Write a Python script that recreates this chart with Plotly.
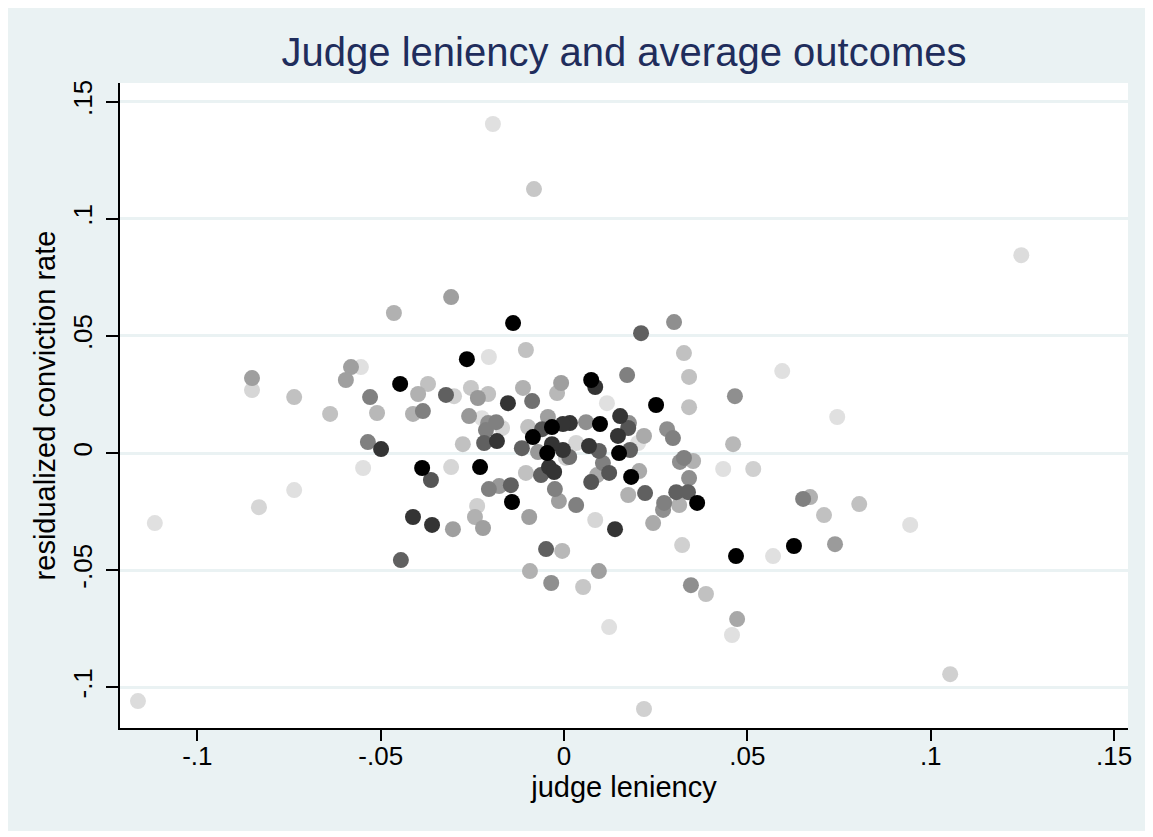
import plotly.graph_objects as go

# judge leniency (x) and residualized conviction rate (y); darkness = judge caseload weight (0 light .. 1 black)
leniency = [
    -0.0194, -0.0082, 0.1247, -0.1162, -0.1116, 0.0218, 0.1053, 0.0944, 0.0805, 0.0739,
    0.0709, 0.0671, 0.0652, 0.0627, 0.0745, 0.0595, 0.0570, 0.0469, 0.0461, 0.0434,
    0.0516, 0.0387, 0.0472, 0.0458, 0.0300, 0.0210, 0.0327, 0.0341, 0.0172, 0.0466,
    0.0341, 0.0251, 0.0117, 0.0153, 0.0177, 0.0175, 0.0098, 0.0147, 0.0218, 0.0281,
    0.0297, 0.0202, 0.0180, 0.0150, 0.0327, 0.0316, 0.0352, 0.0106, 0.0123, 0.0205,
    0.0183, 0.0341, 0.0306, 0.0338, 0.0221, 0.0175, 0.0363, 0.0273, 0.0270, 0.0314,
    0.0243, 0.0139, 0.0085, -0.0046, -0.0003, 0.0068, 0.0095, 0.0014, 0.0005, -0.0041,
    -0.0027, -0.0104, -0.0063, 0.0090, 0.0074, -0.0025, -0.0014, 0.0033, -0.0095, 0.0322,
    -0.0049, -0.0005, -0.0093, 0.0095, -0.0035, 0.0052, 0.0346, 0.0123, -0.0104, 0.0074,
    0.0085, -0.0008, -0.0019, -0.0112, -0.0087, 0.0060, 0.0016, -0.0003, -0.0033, -0.0044,
    -0.0098, -0.0060, -0.0085, 0.0033, -0.0033, -0.0071, -0.0115, -0.0139, -0.0308, -0.0265,
    -0.0205, -0.0464, -0.0447, -0.0371, -0.0398, -0.0322, -0.0300, -0.0254, -0.0235, -0.0207,
    -0.0412, -0.0385, -0.0259, -0.0224, -0.0207, -0.0185, -0.0169, -0.0213, -0.0153, -0.0183,
    -0.0218, -0.0276, -0.0387, -0.0363, -0.0308, -0.0229, -0.0205, -0.0177, -0.0145, -0.0142,
    -0.0237, -0.0243, -0.0221, -0.0412, -0.0360, -0.0303, -0.0581, -0.0554, -0.0595, -0.0529,
    -0.0638, -0.0510, -0.0535, -0.0499, -0.0548, -0.0445, -0.0851, -0.0851, -0.0736, -0.0736,
    -0.0832,
]
conviction = [
    0.1405, 0.1127, 0.0845, -0.1059, -0.0299, -0.1093, -0.0944, -0.0307, -0.0218, -0.0389,
    -0.0265, -0.0188, -0.0196, -0.0397, 0.0154, 0.0350, -0.0440, -0.0440, 0.0038, -0.0068,
    -0.0068, -0.0602, -0.0709, -0.0777, 0.0559, 0.0512, 0.0427, 0.0325, 0.0333, 0.0243,
    0.0196, 0.0205, 0.0213, 0.0158, 0.0128, 0.0107, 0.0124, 0.0073, 0.0073, 0.0102,
    0.0064, 0.0043, 0.0013, 0.0000, -0.0021, -0.0038, -0.0034, -0.0043, -0.0085, -0.0077,
    -0.0102, -0.0107, -0.0167, -0.0167, -0.0171, -0.0179, -0.0213, -0.0213, -0.0243, -0.0222,
    -0.0299, -0.0325, -0.0286, 0.0000, 0.0013, 0.0030, 0.0009, -0.0017, -0.0021, -0.0060,
    -0.0081, -0.0085, -0.0094, -0.0094, -0.0124, -0.0154, -0.0205, -0.0222, -0.0273, -0.0393,
    -0.0410, -0.0418, -0.0504, -0.0504, -0.0555, -0.0572, -0.0564, -0.0743, 0.0440, 0.0312,
    0.0282, 0.0299, 0.0256, 0.0278, 0.0222, 0.0132, 0.0128, 0.0124, 0.0111, 0.0154,
    0.0111, 0.0102, 0.0068, 0.0043, 0.0038, 0.0004, 0.0021, 0.0555, 0.0666, 0.0401,
    0.0410, 0.0598, 0.0295, 0.0295, 0.0252, 0.0248, 0.0243, 0.0278, 0.0235, 0.0252,
    0.0167, 0.0179, 0.0158, 0.0149, 0.0128, 0.0132, 0.0107, 0.0098, 0.0213, 0.0051,
    0.0043, 0.0038, -0.0064, -0.0115, -0.0060, -0.0060, -0.0154, -0.0141, -0.0137, -0.0209,
    -0.0226, -0.0273, -0.0320, -0.0273, -0.0307, -0.0325, 0.0367, 0.0367, 0.0312, 0.0239,
    0.0167, 0.0171, 0.0047, 0.0017, -0.0064, -0.0457, 0.0320, 0.0269, 0.0239, -0.0158,
    -0.0231,
]
weight = [
    0.00, 0.11, 0.02, 0.02, 0.00, 0.07, 0.07, 0.00, 0.14, 0.31,
    0.14, 0.21, 0.43, 1.00, 0.00, 0.00, 0.00, 1.00, 0.18, 0.00,
    0.07, 0.14, 0.25, 0.00, 0.36, 0.57, 0.14, 0.14, 0.43, 0.36,
    0.14, 1.00, 0.00, 0.77, 0.36, 0.62, 1.00, 0.77, 0.24, 0.36,
    0.43, 0.00, 0.57, 1.00, 0.43, 0.36, 0.21, 0.43, 0.62, 0.24,
    1.00, 0.36, 0.57, 0.57, 0.57, 0.21, 1.00, 0.43, 0.36, 0.21,
    0.24, 0.77, 0.045, 1.00, 0.77, 0.77, 0.57, 0.50, 0.07, 0.77,
    0.77, 0.14, 0.57, 0.24, 0.62, 0.43, 0.29, 0.43, 0.29, 0.07,
    0.57, 0.18, 0.21, 0.29, 0.36, 0.11, 0.36, 0.00, 0.14, 1.00,
    0.77, 0.29, 0.18, 0.21, 0.50, 0.36, 0.77, 0.77, 1.00, 0.29,
    0.14, 0.62, 1.00, 0.045, 0.77, 0.32, 0.57, 1.00, 0.29, 1.00,
    0.00, 0.21, 1.00, 0.14, 0.21, 0.57, 0.07, 0.11, 0.32, 0.14,
    0.21, 0.43, 0.32, 0.00, 0.36, 0.43, 0.045, 0.43, 0.77, 0.77,
    0.57, 0.14, 1.00, 0.62, 0.045, 1.00, 0.43, 0.32, 0.57, 1.00,
    0.07, 0.21, 0.29, 0.77, 0.77, 0.29, 0.29, 0.00, 0.29, 0.43,
    0.14, 0.18, 0.43, 0.77, 0.00, 0.57, 0.29, 0.045, 0.14, 0.00,
    0.045,
]

# draw lighter points first so darker ones sit on top
order = sorted(range(len(weight)), key=lambda i: weight[i])
xs = [leniency[i] for i in order]
ys = [conviction[i] for i in order]
ws = [weight[i] for i in order]

BG = "#EAF2F3"
FONT = "Liberation Sans, Arial, Helvetica, sans-serif"

fig = go.Figure()
fig.add_trace(go.Scatter(
    x=xs, y=ys, mode="markers",
    marker=dict(
        size=16, color=ws, cmin=0, cmax=1,
        colorscale=[[0, "rgb(224,224,224)"], [1, "rgb(0,0,0)"]],
        line=dict(width=0), showscale=False,
    ),
    hoverinfo="x+y", showlegend=False,
))

# page body has an 8px margin, so figure coords = page coords - 8
OFF = 8
W, H = 1153, 837
L, T = 120 - OFF, 83 - OFF
R = (W + OFF) - 1128
B = (H + OFF) - 728
pw, ph = W - L - R, H - T - B

def px_x(px):  # page px -> paper x
    return (px - OFF - L) / pw

def px_y(py):  # page py -> paper y
    return (H - B - (py - OFF)) / ph

fig.update_layout(
    width=W, height=H,
    margin=dict(l=L, r=R, t=T, b=B, pad=0),
    paper_bgcolor="white",
    plot_bgcolor="white",
    font=dict(family=FONT, size=26, color="black"),
    title=dict(
        text="Judge leniency and average outcomes",
        x=0.5, xref="paper", xanchor="center",
        y=1 - (52 - OFF) / H, yref="container", yanchor="middle",
        font=dict(family=FONT, size=40, color="#1f2d5c"),
    ),
    shapes=[
        dict(type="rect", xref="paper", yref="paper", layer="below",
             x0=px_x(OFF), x1=px_x(1147),
             y0=px_y(831), y1=px_y(OFF),
             fillcolor=BG, line=dict(width=0)),
        dict(type="rect", xref="paper", yref="paper", layer="below",
             x0=0, x1=1, y0=0, y1=1,
             fillcolor="white", line=dict(width=0)),
    ],
    xaxis=dict(
        range=[-0.1211, 0.1538],
        tickvals=[-0.1, -0.05, 0, 0.05, 0.1, 0.15],
        ticktext=["-.1", "-.05", "0", ".05", ".1", ".15"],
        showgrid=False, zeroline=False,
        showline=True, linecolor="black", linewidth=1.5,
        ticks="outside", ticklen=11, tickwidth=1.5, tickcolor="black",
        tickfont=dict(size=26, color="black"),
        ticklabelstandoff=-7,
        title=dict(text="judge leniency", font=dict(size=29, color="black"), standoff=4),
    ),
    yaxis=dict(
        range=[-0.1174, 0.158],
        tickvals=[-0.1, -0.05, 0, 0.05, 0.1, 0.15],
        ticktext=["-.1", "-.05", "0", ".05", ".1", ".15"],
        tickangle=-90,
        showgrid=True, gridcolor=BG, gridwidth=2.5, zeroline=False,
        showline=True, linecolor="black", linewidth=1.5,
        ticks="outside", ticklen=12, tickwidth=1.5, tickcolor="black",
        tickfont=dict(size=26, color="black"),
        ticklabelstandoff=4,
        title=dict(text="residualized conviction rate", font=dict(size=29, color="black"), standoff=4),
    ),
)

fig.write_html("out.html")
